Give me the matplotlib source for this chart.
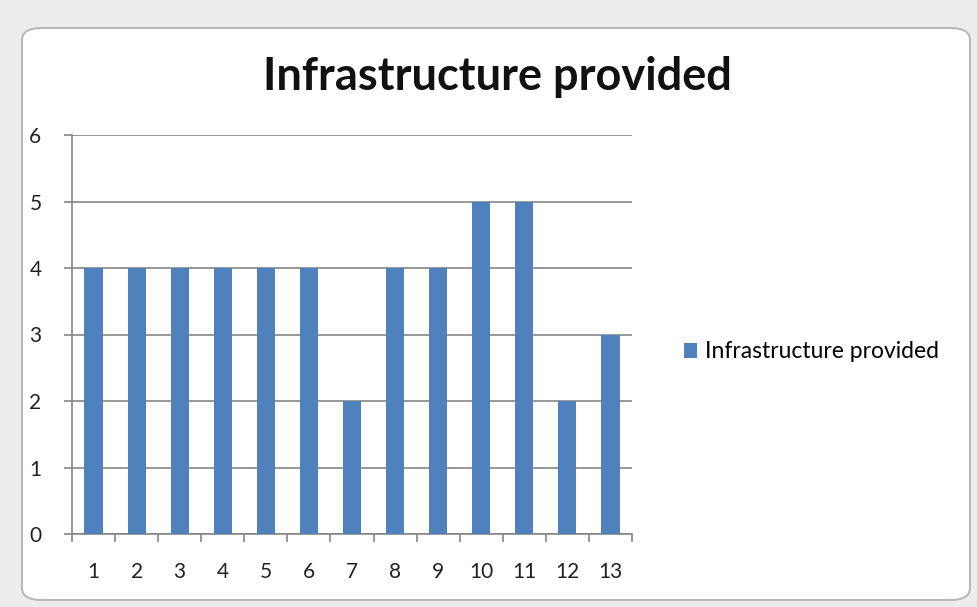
import numpy as np
import matplotlib.pyplot as plt
from matplotlib.patches import FancyBboxPatch

categories = [str(i) for i in range(1, 14)]
values = [4, 4, 4, 4, 4, 4, 2, 4, 4, 5, 5, 2, 3]
series_name = 'Infrastructure provided'

plt.rcParams['font.family'] = ['Lato', 'DejaVu Sans']

fig = plt.figure(figsize=(9.77, 6.07), dpi=100, facecolor='#ececec')

# white chart frame like the Excel chart object
frame = FancyBboxPatch((22 / 977, 7 / 607), 948 / 977, 572 / 607,
                       boxstyle='round,pad=0,rounding_size=0.02',
                       transform=fig.transFigure, facecolor='white',
                       edgecolor='#b8b8b8', linewidth=1.5, zorder=-1)
fig.patches.append(frame)

ax = fig.add_axes([72 / 977, 1 - 534 / 607, 560 / 977, 399 / 607])
ax.set_facecolor('none')
ax.set_zorder(2)

x = np.arange(1, len(values) + 1)
ax.bar(x, values, width=0.42, color='#4f81bd', zorder=3, label=series_name)

ax.set_xlim(0.5, len(values) + 0.5)
ax.set_ylim(0, 6)
ax.set_yticks(range(0, 7))
ax.yaxis.grid(True, color='#868686', linewidth=1.2, zorder=0)

ax.set_xticks(np.arange(0.5, len(values) + 1, 1.0))
ax.set_xticklabels([])
ax.set_xticks(x, minor=True)
ax.set_xticklabels(categories, minor=True)
ax.tick_params(axis='x', which='minor', length=0, pad=20, labelsize=15,
               colors='#222222')
ax.tick_params(axis='x', which='major', length=6, direction='out',
               color='#868686', width=1.2)
ax.tick_params(axis='y', length=6, direction='out', color='#868686',
               width=1.2, pad=16, labelsize=15, labelcolor='#222222')

for s in ['top', 'right']:
    ax.spines[s].set_visible(False)
for s in ['left', 'bottom']:
    ax.spines[s].set_color('#868686')
    ax.spines[s].set_linewidth(1.2)

fig.text(497 / 977, 1 - 77 / 607, 'Infrastructure provided', ha='center',
         va='center', fontsize=32.5, fontweight='bold', color='#111111')

ax.legend(loc='center left', bbox_to_anchor=(663 / 977, 1 - 352 / 607),
          bbox_transform=fig.transFigure, frameon=False, fontsize=16.5,
          handlelength=0.6, handleheight=0.6, handletextpad=0.35)

fig.savefig('out.png', dpi=100, facecolor=fig.get_facecolor())
